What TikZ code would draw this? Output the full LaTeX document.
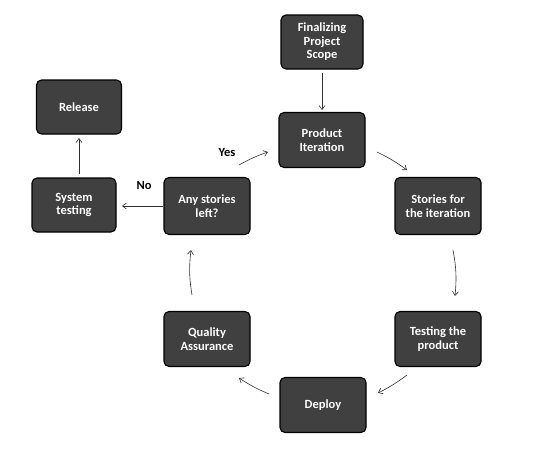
\documentclass[tikz,border=0pt]{standalone}
\usepackage{fontspec}
\setmainfont{Carlito}
\usetikzlibrary{arrows.meta}
\definecolor{boxfill}{HTML}{404040}
\definecolor{arrowc}{HTML}{303030}
\tikzset{
  box/.style={draw=black, line width=1.1pt, fill=boxfill, rounded corners=5pt,
    minimum width=86pt, minimum height=55pt, align=center, text=white,
    font=\bfseries\fontsize{12.5}{13.5}\selectfont, inner sep=2pt},
  conn/.style={draw=arrowc, line width=0.6pt, -{Straight Barb[length=4pt,width=6pt]}},
  lbl/.style={font=\bfseries\fontsize{12.5}{13.5}\selectfont, text=black}
}
\begin{document}
\begin{tikzpicture}[x=1pt,y=-1pt]
\useasboundingbox (0,0) rectangle (557,466);
\node[box, minimum width=82pt, minimum height=54pt] (fin) at (322,42) {Finalizing\\Project\\Scope};
\node[box] (prod) at (322,140) {Product\\Iteration};
\node[box, minimum height=57pt] (stor) at (438,206) {Stories for\\the iteration};
\node[box] (test) at (438,339) {Testing the\\product};
\node[box] (dep) at (323,405) {Deploy};
\node[box] (qa) at (207,339) {Quality\\Assurance};
\node[box, minimum height=57pt] (any) at (207,206) {Any stories\\left?};
\node[box, minimum width=84pt, minimum height=54pt] (sys) at (74,205) {System\\testing};
\node[box, minimum width=85pt, minimum height=54pt] (rel) at (79,107) {Release};

\coordinate (a1s) at (322,73); \coordinate (a1e) at (322,110);
\draw[conn] (a1s) -- (a1e);
\coordinate (a2s) at (377,152); \coordinate (a2e) at (407,170);
\draw[conn] (a2s) to[bend left=5] (a2e);
\coordinate (a3s) at (453,250); \coordinate (a3e) at (455,296);
\draw[conn] (a3s) to[bend left=8] (a3e);
\coordinate (a4s) at (407,375); \coordinate (a4e) at (378,393);
\draw[conn] (a4s) to[bend left=5] (a4e);
\coordinate (a5s) at (269,394); \coordinate (a5e) at (239,378);
\draw[conn] (a5s) to[bend left=5] (a5e);
\coordinate (a6s) at (192,295); \coordinate (a6e) at (191,250);
\draw[conn] (a6s) to[bend left=8] (a6e);
\coordinate (a7s) at (239,165); \coordinate (a7e) at (268,152);
\draw[conn] (a7s) to[bend left=5] (a7e);
\coordinate (a8s) at (163,206); \coordinate (a8e) at (122,206);
\draw[conn] (a8s) -- (a8e);
\coordinate (a9s) at (79,174); \coordinate (a9e) at (79,138);
\draw[conn] (a9s) -- (a9e);

\node[lbl] (yes) at (227,152) {Yes};
\node[lbl] (no) at (144,185) {No};
\end{tikzpicture}
\end{document}
